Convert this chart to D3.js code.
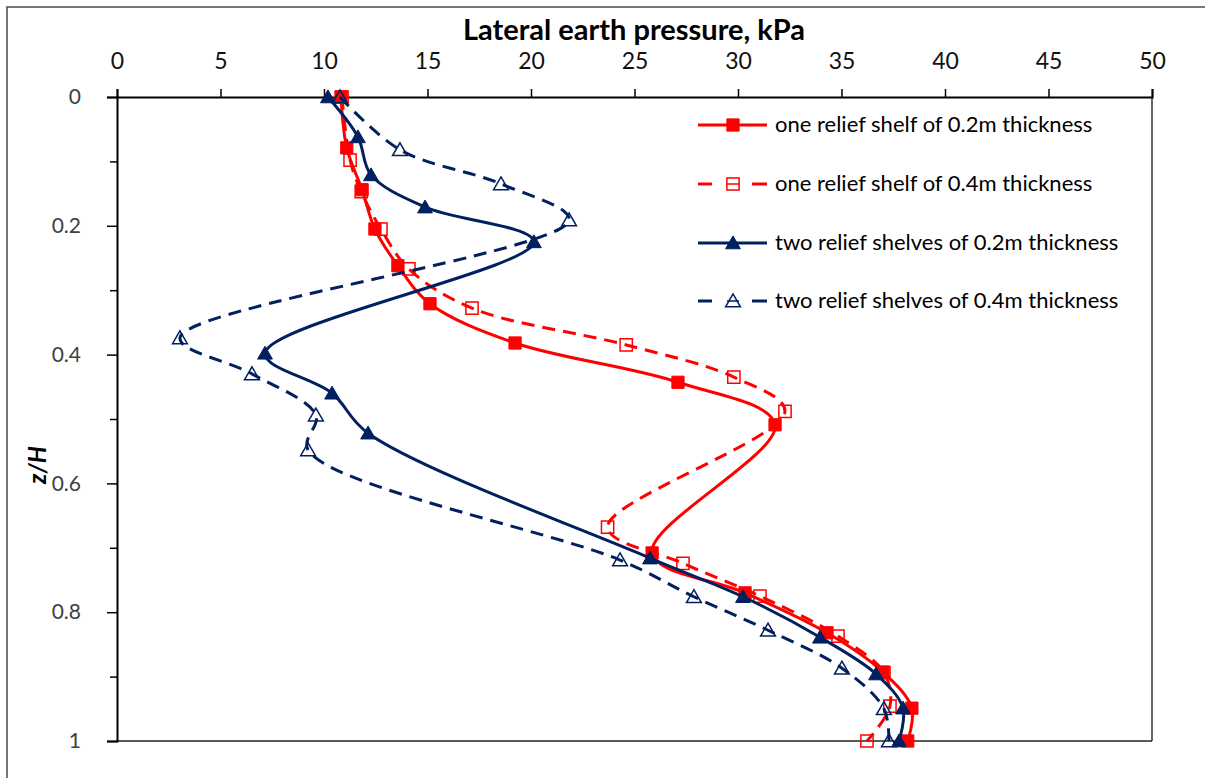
<!DOCTYPE html>
<html>
<head>
<meta charset="utf-8">
<script src="https://cdn.jsdelivr.net/npm/d3@7/dist/d3.min.js"></script>
<style>
  html, body { margin: 0; padding: 0; background: #fff; }
  svg { display: block; }
</style>
</head>
<body>
<svg id="chart" width="1205" height="778"></svg>
<script>
// ---- data ----
const xTicks = [0, 5, 10, 15, 20, 25, 30, 35, 40, 45, 50];
const yTicks = [0, 0.2, 0.4, 0.6, 0.8, 1];
const yMinorTicks = [0.1, 0.3, 0.5, 0.7, 0.9];
const yTickLabels = ["0", "0.2", "0.4", "0.6", "0.8", "1"];

const seriesNames = [
  "one relief shelf of 0.2m thickness",
  "one relief shelf of 0.4m thickness",
  "two relief shelves of 0.2m thickness",
  "two relief shelves of 0.4m thickness"
];

const depthOne02 = [0, 0.079, 0.144, 0.205, 0.262, 0.321, 0.382, 0.443, 0.509, 0.708, 0.770, 0.832, 0.893, 0.949, 1.0];
const pressOne02 = [10.82, 11.1, 11.84, 12.46, 13.57, 15.12, 19.23, 27.1, 31.79, 25.85, 30.34, 34.3, 37.0, 38.4, 38.2];

const depthOne04 = [0, 0.098, 0.147, 0.205, 0.267, 0.328, 0.385, 0.435, 0.488, 0.668, 0.724, 0.775, 0.837, 0.894, 0.946, 1.0];
const pressOne04 = [10.87, 11.26, 11.8, 12.75, 14.1, 17.15, 24.6, 29.8, 32.27, 23.7, 27.34, 31.06, 34.83, 37.05, 37.34, 36.23];

const depthTwo02 = [0, 0.062, 0.121, 0.171, 0.225, 0.398, 0.460, 0.522, 0.716, 0.776, 0.839, 0.896, 0.949, 1.0];
const pressTwo02 = [10.19, 11.64, 12.27, 14.88, 20.14, 7.15, 10.39, 12.13, 25.75, 30.24, 33.96, 36.67, 37.97, 37.78];

const depthTwo04 = [0, 0.082, 0.135, 0.191, 0.374, 0.430, 0.494, 0.548, 0.719, 0.776, 0.828, 0.887, 0.950, 1.0];
const pressTwo04 = [10.77, 13.67, 18.55, 21.84, 3.04, 6.52, 9.61, 9.23, 24.3, 27.87, 31.45, 35.02, 37.05, 37.29];

// ---- layout ----
const svg = d3.select("#chart");
const RED = "#FF0000", NAVY = "#002060";
const FONT = "Lato, 'Open Sans', sans-serif";
const x = d3.scaleLinear().domain([0, 50]).range([117, 1152]);
const y = d3.scaleLinear().domain([0, 1]).range([97, 741]);

// outer frame
svg.append("rect").attr("x", 7).attr("y", 7).attr("width", 1220).attr("height", 800)
  .attr("fill", "#fff").attr("stroke", "#555").attr("stroke-width", 1.6);

// plot border (right & bottom)
svg.append("line").attr("x1", x(50)).attr("x2", x(50)).attr("y1", y(0)).attr("y2", y(1))
  .attr("stroke", "#333").attr("stroke-width", 1.5);
svg.append("line").attr("x1", x(0)).attr("x2", x(50)).attr("y1", y(1)).attr("y2", y(1))
  .attr("stroke", "#222").attr("stroke-width", 1.5);

// x axis (top)
const xAxis = d3.axisTop(x).tickValues(xTicks).tickSize(8).tickPadding(20).tickFormat(d3.format("d"));
const gx = svg.append("g").attr("transform", `translate(0,${y(0)})`).call(xAxis);
gx.select(".domain").attr("stroke", "#000").attr("stroke-width", 2);
gx.selectAll(".tick line").attr("stroke", "#000").attr("stroke-width", 1.5);
gx.selectAll(".tick text").attr("font-family", FONT)
  .attr("font-size", 23).attr("fill", "#111").attr("dy", 0);

// y axis (left)
const yAxis = d3.axisLeft(y).tickValues(yTicks).tickSize(10).tickPadding(26)
  .tickFormat((d, i) => yTickLabels[i]);
const gy = svg.append("g").attr("transform", `translate(${x(0)},0)`).call(yAxis);
gy.select(".domain").attr("stroke", "#000").attr("stroke-width", 2);
gy.selectAll(".tick line").attr("stroke", "#000").attr("stroke-width", 1.5);
gy.selectAll(".tick text").attr("font-family", FONT)
  .attr("font-size", 21).attr("fill", "#404040");
const yMinor = d3.axisLeft(y).tickValues(yMinorTicks).tickSize(7).tickFormat("");
const gym = svg.append("g").attr("transform", `translate(${x(0)},0)`).call(yMinor);
gym.select(".domain").remove();
gym.selectAll(".tick line").attr("stroke", "#000").attr("stroke-width", 1.5);

// titles
svg.append("text").attr("x", 634).attr("y", 40).attr("text-anchor", "middle")
  .attr("font-family", FONT).attr("font-weight", "bold")
  .attr("font-size", 29).attr("fill", "#000")
  .text("Lateral earth pressure, kPa");
svg.append("text").attr("transform", `translate(46,465) rotate(-90)`).attr("text-anchor", "middle")
  .attr("font-family", FONT).attr("font-weight", "bold")
  .attr("font-style", "italic").attr("font-size", 24).attr("fill", "#000")
  .text("z/H");

// ---- series ----
const series = [
  { p: pressOne02, z: depthOne02, color: RED, dash: null, marker: "square", filled: true },
  { p: pressOne04, z: depthOne04, color: RED, dash: "13,8", marker: "square", filled: false },
  { p: pressTwo02, z: depthTwo02, color: NAVY, dash: null, marker: "triangle", filled: true },
  { p: pressTwo04, z: depthTwo04, color: NAVY, dash: "13,8", marker: "triangle", filled: false }
];

const line = d3.line().x(d => x(d[0])).y(d => y(d[1])).curve(d3.curveCatmullRom.alpha(0.5));
const symSquare = d3.symbol().type(d3.symbolSquare).size(150);
const symTri = d3.symbol().type(d3.symbolTriangle).size(95);

function drawMarker(g, s, cx, cy) {
  const path = s.marker === "square" ? symSquare() : symTri();
  const dy = s.marker === "triangle" ? 1.5 : 0;
  g.append("path").attr("d", path).attr("transform", `translate(${cx},${cy + dy})`)
    .attr("fill", s.filled ? s.color : "none")
    .attr("stroke", s.color).attr("stroke-width", s.filled ? 1 : 1.5);
}

series.forEach(s => {
  const pts = s.p.map((v, i) => [v, s.z[i]]);
  const g = svg.append("g");
  g.append("path").attr("d", line(pts)).attr("fill", "none")
    .attr("stroke", s.color).attr("stroke-width", 3)
    .attr("stroke-dasharray", s.dash);
  pts.forEach(d => drawMarker(g, s, x(d[0]), y(d[1])));
});

// ---- legend ----
const legendY = [125, 184, 243, 301];
series.forEach((s, i) => {
  const g = svg.append("g");
  const ly = legendY[i];
  if (s.dash) {
    g.append("line").attr("x1", 698).attr("x2", 712).attr("y1", ly).attr("y2", ly)
      .attr("stroke", s.color).attr("stroke-width", 3);
    g.append("line").attr("x1", 752).attr("x2", 767).attr("y1", ly).attr("y2", ly)
      .attr("stroke", s.color).attr("stroke-width", 3);
    g.append("line").attr("x1", 727).attr("x2", 739).attr("y1", ly).attr("y2", ly)
      .attr("stroke", s.color).attr("stroke-width", 1.5);
  } else {
    g.append("line").attr("x1", 698).attr("x2", 767).attr("y1", ly).attr("y2", ly)
      .attr("stroke", s.color).attr("stroke-width", 3);
  }
  drawMarker(g, s, 733, ly);
  g.append("text").attr("x", 775).attr("y", ly + 7)
    .attr("font-family", FONT).attr("font-size", 22)
    .attr("fill", "#000").text(seriesNames[i]);
});
</script>
</body>
</html>
